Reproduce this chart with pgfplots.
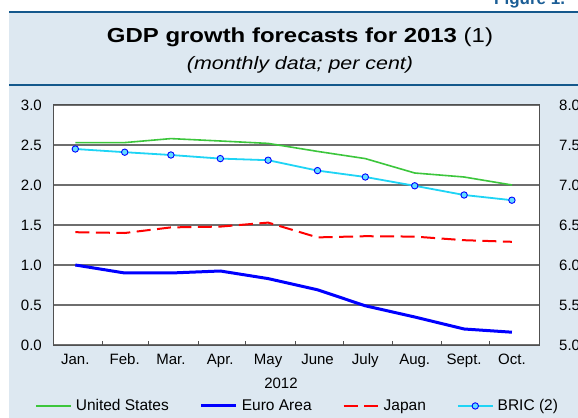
\documentclass[border=0pt]{standalone}
\usepackage{fontspec}
\setmainfont{Liberation Sans}
\usepackage{graphicx}
\usepackage{pgfplots}
\pgfplotsset{compat=1.18}
\definecolor{bgblue}{RGB}{221,232,241}
\definecolor{topblue}{RGB}{20,88,140}
\definecolor{figblue}{RGB}{27,94,150}
\definecolor{axisgray}{RGB}{80,80,80}
\definecolor{gridgray}{RGB}{110,110,110}
\definecolor{usgreen}{RGB}{60,198,60}
\definecolor{eublue}{RGB}{0,0,255}
\definecolor{jpred}{RGB}{255,0,0}
\definecolor{bricline}{RGB}{30,212,245}
\definecolor{bricfill}{RGB}{100,222,255}
\begin{document}
\begin{tikzpicture}
\clip (0,0) rectangle (578bp,418bp);
\fill[white] (0,0) rectangle (578bp,418bp);
\fill[bgblue] (9bp,0) rectangle (578bp,406bp);
\draw[topblue, line width=2.2bp] (9bp,406bp) -- (578bp,406bp);
\draw[topblue, line width=1.5bp] (9bp,333bp) -- (578bp,333bp);
\node[anchor=base west, inner sep=0pt, text=figblue, font=\fontsize{17bp}{20bp}\selectfont\bfseries] at (494bp,413.5bp) {Figure 1.};
\node[anchor=base, inner sep=0pt] at (300bp,375.3bp) {\scalebox{1.18}[1]{\fontsize{20.3bp}{24bp}\selectfont\textbf{GDP growth forecasts for 2013} (1)}};
\node[anchor=base, inner sep=0pt] at (300bp,348.5bp) {\scalebox{1.19}[1]{\fontsize{18bp}{22bp}\selectfont\itshape (monthly data; per cent)}};

\begin{axis}[
  at={(53bp,73bp)}, anchor=south west, scale only axis,
  width=486bp, height=240bp,
  xmin=1, xmax=306, ymin=0, ymax=3,
  axis background/.style={fill=white},
  axis line style={draw=axisgray, line width=1bp},
  /pgf/number format/assume math mode=true,
  ticklabel style={font=\fontsize{15bp}{18bp}\selectfont},
  xtick={32,61,92,122,153,183,214,245,275}, xticklabels={},
  xtick pos=bottom, tick align=inside, major tick length=4bp,
  xtick style={draw=axisgray, line width=1bp},
  extra x ticks={15,46,75,106,136,167,197,228,259,289},
  extra x tick labels={Jan.,Feb.,Mar.,Apr.,May,June,July,Aug.,Sept.,Oct.},
  extra x tick style={major tick length=0pt, grid=none},
  xticklabel style={anchor=base, inner sep=0pt, yshift=-19bp},
  ytick={0,0.5,1,1.5,2,2.5,3}, ytick pos=left,
  ymajorgrids, grid style={draw=gridgray, line width=1.3bp},
  ytick style={draw=none},
  yticklabel style={/pgf/number format/.cd, fixed, fixed zerofill, precision=1, /tikz/.cd, anchor=east, inner sep=0pt, xshift=-11bp},
  xlabel={2012},
  xlabel style={at={(axis description cs:0.469,-0.181)}, anchor=base, inner sep=0pt, font=\fontsize{15bp}{18bp}\selectfont},
  legend columns=4,
  legend cell align=left,
  legend image code/.code={\draw[#1] (0bp,0bp) -- (35bp,0bp);},
  legend style={at={(axis description cs:-0.037,-0.254)}, anchor=west, draw=none, fill=none, inner sep=0pt,
    font=\fontsize{15.5bp}{18bp}\selectfont,
    /tikz/every even column/.append style={column sep=31bp},
    /tikz/every odd column/.append style={column sep=4bp},
    nodes={inner sep=0pt}},
]
\addplot[usgreen, line width=1.6bp, mark=none] coordinates {
(15,2.53) (46,2.53) (75,2.58) (106,2.55) (136,2.52) (167,2.42) (197,2.33) (228,2.15) (259,2.10) (289,2.00)};
\addlegendentry{United States}
\addplot[eublue, line width=3bp, mark=none] coordinates {
(15,1.00) (46,0.90) (75,0.90) (106,0.925) (136,0.83) (167,0.69) (197,0.49) (228,0.35) (259,0.20) (289,0.16)};
\addlegendentry{Euro Area}
\addplot[jpred, line width=2bp, mark=none, dash pattern=on 14bp off 6.5bp] coordinates {
(15,1.41) (46,1.40) (75,1.47) (106,1.48) (136,1.53) (167,1.345) (197,1.36) (228,1.355) (259,1.31) (289,1.29)};
\addlegendentry{Japan}
\addlegendimage{bricline, line width=1.8bp, legend image code/.code={
  \draw[bricline, line width=1.8bp] (0bp,0bp) -- (35bp,0bp);
  \draw[eublue, fill=bricfill, line width=0.9bp] (17.5bp,0bp) circle (3.2bp);}}
\addlegendentry{BRIC (2)}
\end{axis}

\begin{axis}[
  at={(53bp,73bp)}, anchor=south west, scale only axis,
  width=486bp, height=240bp,
  xmin=1, xmax=306, ymin=5, ymax=8,
  axis x line=none, axis y line*=right,
  axis line style={draw=axisgray, line width=1bp},
  /pgf/number format/assume math mode=true,
  ticklabel style={font=\fontsize{15bp}{18bp}\selectfont},
  ytick={5,5.5,6,6.5,7,7.5,8},
  ytick style={draw=none},
  yticklabel style={/pgf/number format/.cd, fixed, fixed zerofill, precision=1, /tikz/.cd, anchor=west, inner sep=0pt, xshift=20bp},
]
\addplot[bricline, line width=1.8bp, mark=*, mark size=3.2bp, mark options={fill=bricfill, draw=eublue, line width=0.9bp}] coordinates {
(15,7.45) (46,7.41) (75,7.375) (106,7.33) (136,7.31) (167,7.18) (197,7.10) (228,6.99) (259,6.875) (289,6.81)};
\end{axis}
\end{tikzpicture}
\end{document}
